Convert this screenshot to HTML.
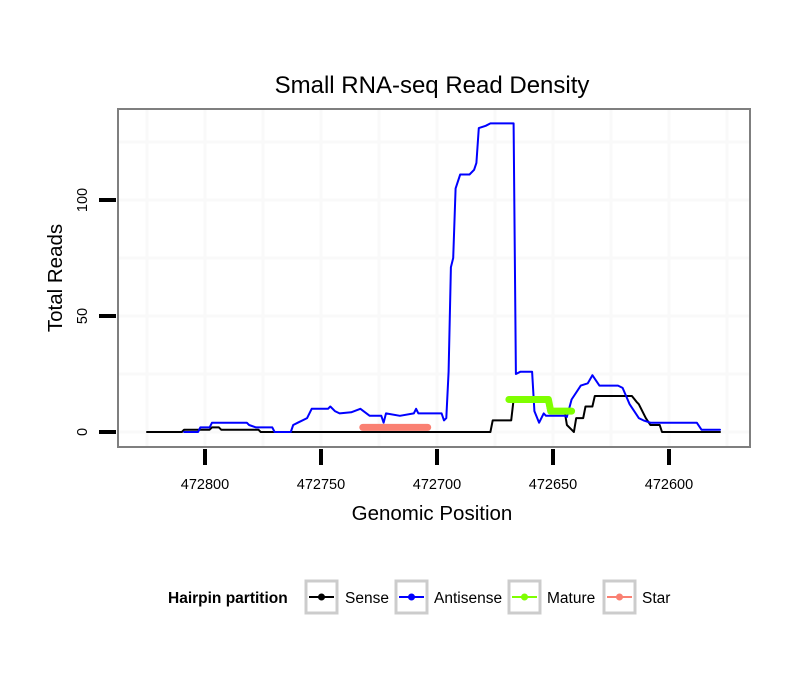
<!DOCTYPE html>
<html><head><meta charset="utf-8"><style>
body{margin:0;background:#fff;}
svg{display:block;font-family:"Liberation Sans",sans-serif;}
</style></head><body>
<svg id="chart" width="810" height="690" viewBox="0 0 810 690">
<rect x="0" y="0" width="810" height="690" fill="#fff"/>
<text x="432" y="93" font-size="24" text-anchor="middle">Small RNA-seq Read Density</text>
<g id="grid"></g>
<g id="series"></g>
<rect x="118" y="109" width="632" height="338" fill="none" stroke="#7f7f7f" stroke-width="2"/>
<g id="axes"></g>
<text x="432" y="520" font-size="20.5" text-anchor="middle">Genomic Position</text>
<text transform="translate(62,278) rotate(-90)" font-size="20.5" text-anchor="middle">Total Reads</text>
<g>
<text x="168" y="603" font-size="15.5" font-weight="bold">Hairpin partition</text>
<g>
<rect x="306" y="581" width="31" height="32" fill="#fff" stroke="#ccc" stroke-width="3"/>
<line x1="309" y1="597" x2="334" y2="597" stroke="#000" stroke-width="2"/><circle cx="321.5" cy="597" r="3.5" fill="#000"/>
<text x="345" y="603" font-size="15.5">Sense</text></g>
<g>
<rect x="396" y="581" width="31" height="32" fill="#fff" stroke="#ccc" stroke-width="3"/>
<line x1="399" y1="597" x2="424" y2="597" stroke="#0000ff" stroke-width="2"/><circle cx="411.5" cy="597" r="3.5" fill="#0000ff"/>
<text x="434" y="603" font-size="15.5">Antisense</text></g>
<g>
<rect x="509" y="581" width="31" height="32" fill="#fff" stroke="#ccc" stroke-width="3"/>
<line x1="512" y1="597" x2="537" y2="597" stroke="#7fff00" stroke-width="2"/><circle cx="524.5" cy="597" r="3.5" fill="#7fff00"/>
<text x="547" y="603" font-size="15.5">Mature</text></g>
<g>
<rect x="604" y="581" width="31" height="32" fill="#fff" stroke="#ccc" stroke-width="3"/>
<line x1="607" y1="597" x2="632" y2="597" stroke="#fa8072" stroke-width="2"/><circle cx="619.5" cy="597" r="3.5" fill="#fa8072"/>
<text x="642" y="603" font-size="15.5">Star</text></g>
</g>
</svg>
<script>
const xTicks = [472800, 472750, 472700, 472650, 472600];
const xMinor = [472825, 472775, 472725, 472675, 472625, 472575];
const yTicks = [0, 50, 100];
const yMinor = [25, 75, 125];
const antisensePos = [472809,472803,472802,472798,472797,472782,472781,472778,472771,472770,472763,472762,472760,472756,472754,472747,472746,472744,472742,472737,472733,472729,472724,472723,472722,472716,472710,472709,472708,472698,472697,472696,472695,472694,472693,472692,472690,472686,472684,472683,472682,472679,472677,472667,472666,472664,472659,472658,472656,472654,472653,472645,472644,472642,472638,472635,472633,472630,472622,472620,472617,472613,472611,472608,472588,472586,472578];
const antisenseVal = [0,0,2,2,4,4,3,2,2,0,0,3,4,6,10,10,11,9,8,8.5,10,7,7,4,8,7,8,10,8,8,5,6,26,71,75,105,111,111,113,116,131,132,133,133,25,26,26,9,4,8,7,7,6.5,14,20,21,24.5,20,20,19,12,6,5,4,4,1,1];
const sensePos = [472825,472810,472809,472798,472797,472794,472793,472777,472776,472677,472676,472668,472667,472653,472652,472645,472644,472642,472641,472640,472637,472636,472633,472632,472616,472614,472613,472610,472608,472604,472603,472578];
const senseVal = [0,0,1,1,2,2,1,1,0,0,5,5,14,14,9,9,3,1,0,6,6,11,11,15.5,15.5,13,12,6,3,3,0,0];
const maturePos = [472669,472652,472651,472642];
const matureVal = [14,14,9,9];
const starPos = [472732,472704];
const starVal = [2,2];

const NS = "http://www.w3.org/2000/svg";
function xs(p){ return 205 + (472800 - p) * 2.32; }
function ys(v){ return 432 - v * 2.32; }
function mk(tag, attrs, parent){ const e = document.createElementNS(NS, tag); for (const k in attrs) e.setAttribute(k, attrs[k]); parent.appendChild(e); return e; }
const grid = document.getElementById('grid');
const axes = document.getElementById('axes');
const series = document.getElementById('series');
xMinor.concat(xTicks).forEach(p => { const x = xs(p); if (x < 119 || x > 749) return;
  const l = mk('line', {x1:x, x2:x, y1:110, y2:446, stroke:'#f9f9f9', 'stroke-width':3}, grid);
  
   });
yMinor.concat(yTicks).forEach(v => { const y = ys(v);
  const l = mk('line', {x1:119, x2:749, y1:y, y2:y, stroke:'#f9f9f9', 'stroke-width':3}, grid);
  
   });
xTicks.forEach(p => { const x = xs(p);
  const t = mk('line', {x1:x, x2:x, y1:449, y2:465, stroke:'#000', 'stroke-width':4}, axes);
  
  
  const lb = mk('text', {x:x, y:489, 'font-size':14.5, 'text-anchor':'middle'}, axes);
  lb.textContent = p;
  
   });
yTicks.forEach(v => { const y = ys(v);
  const t = mk('line', {x1:99, x2:116, y1:y, y2:y, stroke:'#000', 'stroke-width':4}, axes);
  
  
  const lb = mk('text', {transform:'translate(87,'+y+') rotate(-90)', 'font-size':14.5, 'text-anchor':'middle'}, axes);
  lb.textContent = v;
  
   });
function path(pos, val, color, w, name){
  const d = pos.map((p, i) => (i ? 'L' : 'M') + xs(p).toFixed(1) + ' ' + ys(val[i]).toFixed(1)).join(' ');
  const e = mk('path', {d:d, fill:'none', stroke:color, 'stroke-width':w, 'stroke-linejoin':'round', 'stroke-linecap':'round'}, series);
  
  
}
path(sensePos, senseVal, '#000', 2, 'sense-line');
path(antisensePos, antisenseVal, '#0000ff', 2, 'antisense-line');
path(maturePos, matureVal, '#7fff00', 7, 'mature-line');
path(starPos, starVal, '#fa8072', 7, 'star-line');
</script>
</body></html>
